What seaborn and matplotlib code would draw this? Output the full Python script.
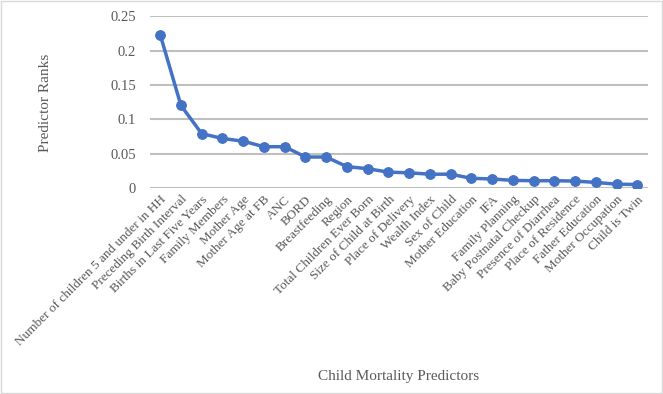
#!/usr/bin/env python3

import matplotlib
matplotlib.use("Agg")
import matplotlib.pyplot as plt
import seaborn as sns
import pandas as pd

predictors = [
    "Number of children 5 and under in HH", "Preceding Birth Interval",
    "Births in Last Five Years", "Family Members", "Mother Age",
    "Mother Age at FB", "ANC", "BORD", "Breastfeeding", "Region",
    "Total Children Ever Born", "Size of Child at Birth", "Place of Delivery",
    "Wealth Index", "Sex of Child", "Mother Education", "IFA",
    "Family Planning", "Baby Postnatal Checkup", "Presence of Diarrhea",
    "Place of Residence", "Father Education", "Mother Occupation",
    "Child is Twin",
]
ranks = [0.223, 0.120, 0.079, 0.072, 0.068, 0.060, 0.060, 0.045, 0.045,
         0.031, 0.028, 0.023, 0.022, 0.020, 0.020, 0.014, 0.013, 0.011,
         0.0105, 0.0105, 0.010, 0.008, 0.0055, 0.005]
yticks = [0, 0.05, 0.1, 0.15, 0.2, 0.25]
ytick_labels = ["0", "0.05", "0.1", "0.15", "0.2", "0.25"]

df = pd.DataFrame({"predictor": predictors, "rank": ranks})

sns.set_style("white")
plt.rcParams["font.family"] = ["Liberation Serif", "DejaVu Serif"]
grey = "#595959"
line_grey = "#BFBFBF"

fig = plt.figure(figsize=(6.63, 3.94), dpi=100)
ax = fig.add_axes([0.226, 0.523, 0.751, 0.436])

sns.lineplot(data=df, x="predictor", y="rank", sort=False, ax=ax,
             color="#4472C4", linewidth=2.5, marker="o", markersize=7,
             markeredgecolor="#4472C4", zorder=3)

ax.set_xlim(-0.5, len(predictors) - 0.5)
ax.set_ylim(0, 0.25)
ax.set_yticks(yticks)
ax.set_yticklabels(ytick_labels)
ax.tick_params(axis="y", length=0, labelsize=10.5, labelcolor=grey, pad=10)
ax.tick_params(axis="x", length=0, labelsize=9.5, labelcolor=grey, pad=4)
ax.yaxis.grid(True, color=line_grey, linewidth=1.5, linestyle="-")
ax.xaxis.grid(False)
ax.set_axisbelow(True)
for side in ["top", "right", "left", "bottom"]:
    ax.spines[side].set_visible(False)
plt.setp(ax.get_xticklabels(), rotation=45, ha="right", rotation_mode="anchor")

ax.set_xlabel("")
ax.set_ylabel("")
fig.text(0.5 * (0.226 + 0.977), 0.045, "Child Mortality Predictors",
         ha="center", va="center", fontsize=11, color=grey)
fig.text(0.068, 0.74, "Predictor Ranks", rotation=90,
         ha="center", va="center", fontsize=11, color=grey)

fig.patches.append(plt.Rectangle((0.002, 0.003), 0.996, 0.994,
                                 transform=fig.transFigure, fill=False,
                                 edgecolor="#D9D9D9", linewidth=1))

fig.savefig("out.png", dpi=100)
